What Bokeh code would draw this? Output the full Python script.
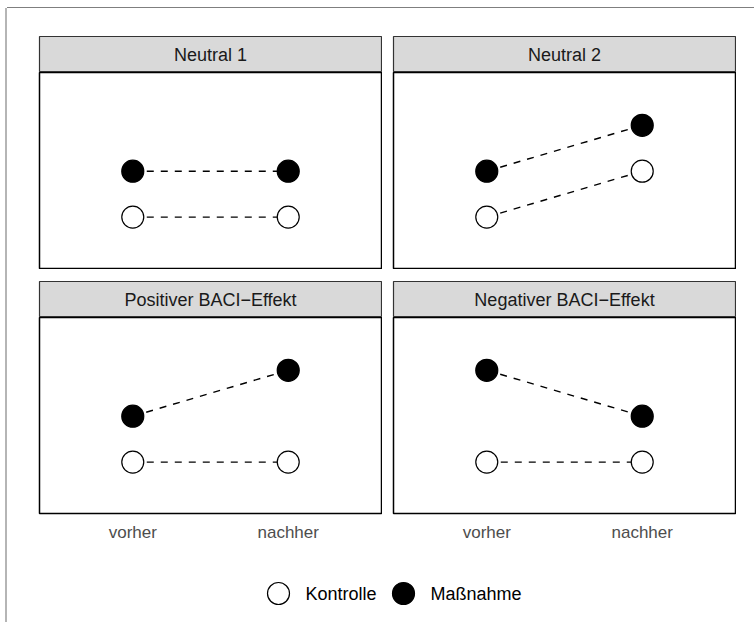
from bokeh.plotting import figure
from bokeh.layouts import column, row
from bokeh.models import Spacer, FactorRange, Range1d
from bokeh.core.properties import value
from bokeh.embed import file_html
from bokeh.resources import INLINE

# ---- data ----
panel_titles = ["Neutral 1", "Neutral 2", "Positiver BACI\u2212Effekt", "Negativer BACI\u2212Effekt"]
zeit = ["vorher", "nachher"]
kontrolle_n1 = [1, 1]
massnahme_n1 = [2, 2]
kontrolle_n2 = [1, 2]
massnahme_n2 = [2, 3]
kontrolle_pos = [1, 1]
massnahme_pos = [2, 3]
kontrolle_neg = [1, 1]
massnahme_neg = [3, 2]
legend_labels = ["Kontrolle", "Ma\u00dfnahme"]
legend_fills = ["white", "black"]

kontrolle = [kontrolle_n1, kontrolle_n2, kontrolle_pos, kontrolle_neg]
massnahme = [massnahme_n1, massnahme_n2, massnahme_pos, massnahme_neg]

FONT = "Liberation Sans"
PW, PH = 342, 196
SH = 36
CW = 747  # content column width


def strip_fig(label):
    s = figure(width=PW + 2, height=SH + 1, min_border_left=1, min_border_right=1,
               min_border_top=1, min_border_bottom=0,
               x_range=Range1d(0, 1), y_range=Range1d(0, 1),
               x_axis_location=None, y_axis_location=None,
               toolbar_location=None, output_backend="svg")
    s.grid.visible = False
    s.background_fill_color = "#d9d9d9"
    s.border_fill_color = "white"
    s.outline_line_color = "#333333"
    s.outline_line_width = 1.2
    s.text(x=[0.5], y=[0.5], text=[label], text_align="center", text_baseline="middle",
           text_font=value(FONT), text_font_size="18px", text_color="#1a1a1a")
    return s


def panel_fig(k, m, bottom):
    p = figure(width=PW + 2, height=PH + (40 if bottom else 1),
               min_border_left=1, min_border_right=1, min_border_top=0,
               min_border_bottom=40 if bottom else 1,
               x_range=FactorRange(factors=zeit, range_padding=0.1),
               y_range=Range1d(-0.12, 4.15),
               x_axis_location="below" if bottom else None, y_axis_location=None,
               toolbar_location=None, output_backend="svg")
    p.grid.visible = False
    p.background_fill_color = "white"
    p.border_fill_color = "white"
    p.outline_line_color = "black"
    p.outline_line_width = 1.5
    if bottom:
        ax = p.xaxis[0]
        ax.axis_line_color = None
        ax.major_tick_line_color = None
        ax.minor_tick_line_color = None
        ax.major_tick_out = 0
        ax.major_tick_in = 0
        ax.major_label_standoff = 9
        ax.major_label_text_font = FONT
        ax.major_label_text_font_size = "17px"
        ax.major_label_text_color = "#4d4d4d"
    for ys, fill in ((k, "white"), (m, "black")):
        p.line(x=zeit, y=ys, line_color="black", line_width=1.4, line_dash="7 7")
        p.scatter(x=zeit, y=ys, size=22, fill_color=fill, line_color="black", line_width=1.2)
    return p


strips = [strip_fig(t) for t in panel_titles]
panels = [panel_fig(kontrolle[i], massnahme[i], i >= 2) for i in range(4)]

# legend
lg = figure(width=CW, height=60, x_range=Range1d(0, CW), y_range=Range1d(0, 60),
            x_axis_location=None, y_axis_location=None, min_border=0,
            toolbar_location=None, output_backend="svg")
lg.grid.visible = False
lg.outline_line_color = None
lg_x = [271, 396]
lg.scatter(x=lg_x, y=[20, 20], size=22, fill_color=legend_fills, line_color="black", line_width=1.2)
lg.text(x=[x + 27 for x in lg_x], y=[20, 20], text=legend_labels, text_baseline="middle",
        text_align="left", text_font=value(FONT), text_font_size="18px", text_color="black")

content = column(
    Spacer(width=CW, height=27),
    row(Spacer(width=31, height=SH + 1), strips[0], Spacer(width=10, height=SH + 1), strips[1]),
    row(Spacer(width=31, height=PH + 1), panels[0], Spacer(width=10, height=PH + 1), panels[1]),
    Spacer(width=CW, height=11),
    row(Spacer(width=31, height=SH + 1), strips[2], Spacer(width=10, height=SH + 1), strips[3]),
    row(Spacer(width=31, height=PH + 40), panels[2], Spacer(width=10, height=PH + 40), panels[3]),
    lg,
    Spacer(width=CW, height=9),
    styles={"box-shadow": "-2px 0 0 0 #b5b5b5, 0 -1px 0 0 #7f7f7f"},
)

layout = column(
    Spacer(width=754, height=8),
    row(Spacer(width=7, height=614), content),
)

open("out.html", "w").write(file_html(layout, INLINE))
